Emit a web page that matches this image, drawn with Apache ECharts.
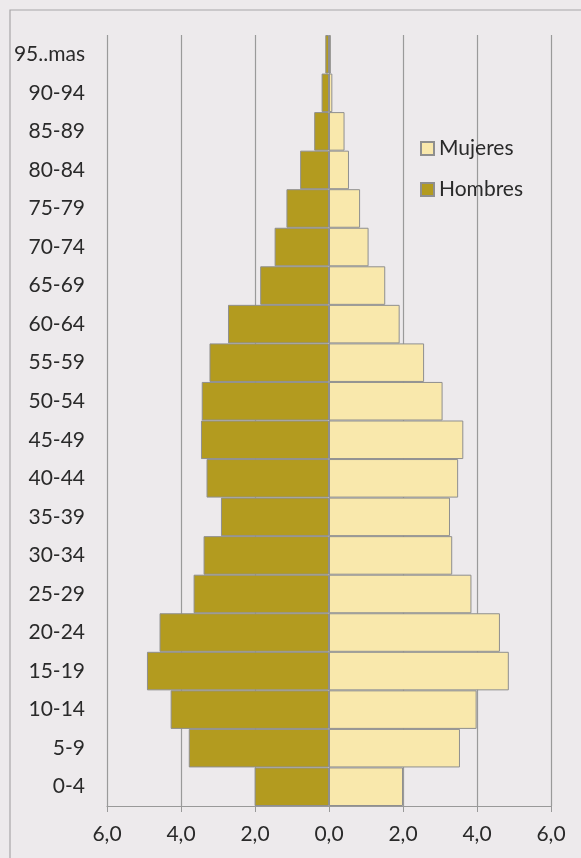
<!DOCTYPE html>
<html>
<head>
<meta charset="utf-8">
<script src="https://cdn.jsdelivr.net/npm/echarts@6/dist/echarts.min.js"></script>
<style>
html,body{margin:0;padding:0;background:#edeaec;}
#c{width:581px;height:858px;}
</style>
</head>
<body>
<div id="c"></div>
<script>
var categories = ['0-4','5-9','10-14','15-19','20-24','25-29','30-34','35-39','40-44','45-49','50-54','55-59','60-64','65-69','70-74','75-79','80-84','85-89','90-94','95..mas'];
var hombres = [2.01,3.79,4.28,4.92,4.58,3.66,3.39,2.92,3.31,3.46,3.44,3.23,2.73,1.86,1.47,1.15,0.78,0.40,0.20,0.10];
var mujeres = [2.00,3.54,3.99,4.86,4.62,3.85,3.33,3.27,3.49,3.63,3.07,2.57,1.91,1.52,1.07,0.84,0.54,0.42,0.09,0.05];
var xTicks = {min:-6, max:6, interval:2};

var font = 'Lato, "Open Sans", sans-serif';
var chart = echarts.init(document.getElementById('c'));
chart.setOption({
  backgroundColor:'#edeaec',
  animation:false,
  textStyle:{fontFamily:font},
  graphic:[{type:'rect',shape:{x:10,y:10,width:700,height:900},style:{fill:'none',stroke:'#a8a6a8',lineWidth:1.2},z:-1}],
  grid:{left:107,right:30,top:35,bottom:52},
  legend:{
    data:['Mujeres','Hombres'],orient:'vertical',left:415,top:133,
    itemWidth:13,itemHeight:13,itemGap:20,icon:'rect',
    textStyle:{fontSize:21,color:'#2a2a2a',fontFamily:font}
  },
  xAxis:{
    type:'value',min:xTicks.min,max:xTicks.max,interval:xTicks.interval,
    axisLine:{show:true,lineStyle:{color:'#999',width:1.2}},
    axisTick:{show:true,length:6,lineStyle:{color:'#999'}},
    splitLine:{show:true,lineStyle:{color:'#9a9a9a',width:1.2}},
    axisLabel:{fontSize:21,color:'#2a2a2a',margin:18,fontFamily:font,
      formatter:function(v){return Math.abs(v).toFixed(1).replace('.',',');}}
  },
  yAxis:{
    type:'category',data:categories,
    axisLine:{show:false},axisTick:{show:false},
    axisLabel:{fontSize:21,color:'#2a2a2a',margin:22,fontFamily:font}
  },
  series:[
    {name:'Hombres',type:'bar',data:hombres.map(function(v){return -v;}),
     barGap:'-100%',barCategoryGap:0,
     itemStyle:{color:'#b39b1f',borderColor:'#8f8f8f',borderWidth:1}},
    {name:'Mujeres',type:'bar',data:mujeres,
     barGap:'-100%',barCategoryGap:0,
     itemStyle:{color:'#f9e8ac',borderColor:'#8f8f8f',borderWidth:1}}
  ]
});
</script>
</body>
</html>
